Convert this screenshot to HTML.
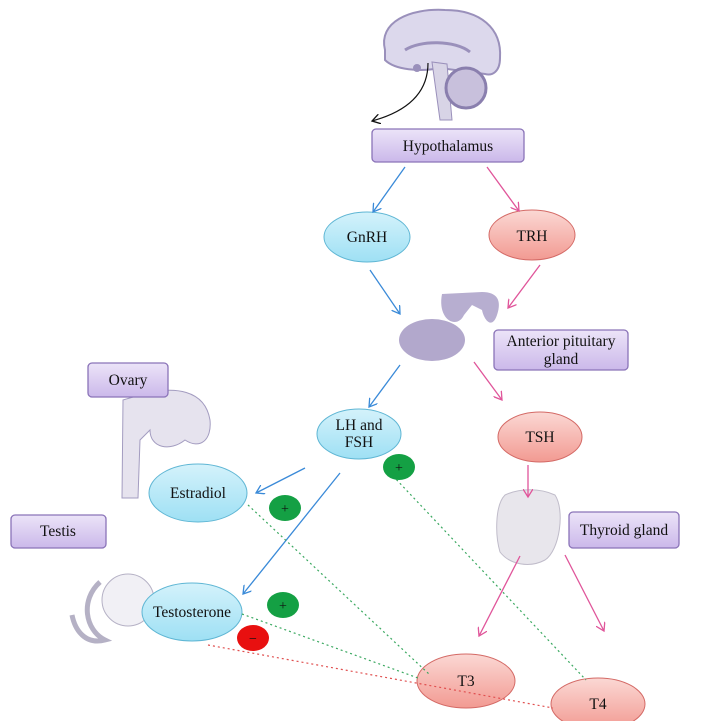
<!DOCTYPE html>
<html><head><style>body{margin:0;background:#fff}svg{display:block}text{font-family:"Liberation Serif",serif;font-size:15.5px;fill:#111;text-anchor:middle}</style></head><body>
<svg width="717" height="721" viewBox="0 0 717 721" xmlns="http://www.w3.org/2000/svg">
<defs>
<linearGradient id="pb" x1="0" y1="0" x2="0" y2="1"><stop offset="0" stop-color="#ece4f8"/><stop offset="1" stop-color="#cbb8ea"/></linearGradient>
<linearGradient id="cb" x1="0" y1="0" x2="0" y2="1"><stop offset="0" stop-color="#d4f2fb"/><stop offset="1" stop-color="#9ee0f4"/></linearGradient>
<linearGradient id="rb" x1="0" y1="0" x2="0" y2="1"><stop offset="0" stop-color="#fbd8d4"/><stop offset="1" stop-color="#f29a92"/></linearGradient>
<marker id="ab" markerWidth="10" markerHeight="10" refX="8" refY="5" orient="auto" markerUnits="userSpaceOnUse"><path d="M0,0 L8,5 L0,10" fill="none" stroke="#3a8ad8" stroke-width="1.3"/></marker>
<marker id="ap" markerWidth="10" markerHeight="10" refX="8" refY="5" orient="auto" markerUnits="userSpaceOnUse"><path d="M0,0 L8,5 L0,10" fill="none" stroke="#e0559a" stroke-width="1.3"/></marker>
<marker id="ak" markerWidth="10" markerHeight="10" refX="8" refY="5" orient="auto" markerUnits="userSpaceOnUse"><path d="M0,0 L8,5 L0,10" fill="none" stroke="#111" stroke-width="1.3"/></marker>
</defs>
<!-- brain -->
<path d="M385,50 C378,22 410,8 445,10 C480,10 502,28 500,58 C500,72 492,76 485,74 L440,68 C420,72 395,70 385,60 Z" fill="#dcd8ec" stroke="#9a90bb" stroke-width="2"/>
<path d="M432,62 L440,120 L452,120 L447,64 Z" fill="#d8d4e6" stroke="#9a90bb" stroke-width="1"/>
<circle cx="466" cy="88" r="20" fill="#c8c0dc" stroke="#8a7fae" stroke-width="3"/>
<path d="M405,50 C420,40 455,40 470,52" fill="none" stroke="#9a90bb" stroke-width="3"/>
<circle cx="417" cy="68" r="4" fill="#9a90bb"/>
<path d="M428,63 C428,95 405,112 372,121" fill="none" stroke="#111" stroke-width="1.2" marker-end="url(#ak)"/>
<!-- pituitary -->
<path d="M442,294 L482,292 C497,292 502,300 497,315 C492,330 484,320 482,310 L472,305 L464,315 C457,330 437,320 442,294 Z" fill="#b7aed0"/>
<ellipse cx="432" cy="340" rx="33" ry="21" fill="#b2a8cc"/>
<!-- ovary & testis & thyroid blobs -->
<path d="M123,400 L140,395 C175,385 205,390 210,420 C212,440 200,450 185,440 C170,452 150,448 150,430 L140,440 L138,498 L122,498 Z" fill="#e6e3ee" stroke="#a39cc0" stroke-width="1"/>
<circle cx="128" cy="600" r="26" fill="#f1f0f5" stroke="#b5b1c5"/>
<path d="M100,582 C80,600 85,630 105,640 C85,645 75,630 72,615" fill="none" stroke="#b5b1c5" stroke-width="5"/>
<path d="M505,495 C520,488 540,488 555,495 C565,510 560,550 545,560 C530,568 510,565 500,552 C495,535 495,505 505,495Z" fill="#e8e6ec" stroke="#c0bcca"/>
<!-- boxes -->
<g stroke="#8a73b8" stroke-width="1.3" fill="url(#pb)">
<rect x="372" y="129" width="152" height="33" rx="4"/>
<rect x="494" y="330" width="134" height="40" rx="4"/>
<rect x="88" y="363" width="80" height="34" rx="4"/>
<rect x="11" y="515" width="95" height="33" rx="4"/>
<rect x="569" y="512" width="110" height="36" rx="4"/>
</g>
<text x="448" y="151">Hypothalamus</text>
<text x="561" y="346">Anterior pituitary</text><text x="561" y="364">gland</text>
<text x="128" y="385">Ovary</text>
<text x="58" y="536">Testis</text>
<text x="624" y="535">Thyroid gland</text>
<!-- ellipses -->
<g stroke="#5fb6d4" stroke-width="1" fill="url(#cb)">
<ellipse cx="367" cy="237" rx="43" ry="25"/>
<ellipse cx="359" cy="434" rx="42" ry="25"/>
<ellipse cx="198" cy="493" rx="49" ry="29"/>
<ellipse cx="192" cy="612" rx="50" ry="29"/>
</g>
<g stroke="#d46a66" stroke-width="1" fill="url(#rb)">
<ellipse cx="532" cy="235" rx="43" ry="25"/>
<ellipse cx="540" cy="437" rx="42" ry="25"/>
<ellipse cx="466" cy="681" rx="49" ry="27"/>
<ellipse cx="598" cy="704" rx="47" ry="26"/>
</g>
<text x="367" y="242">GnRH</text><text x="532" y="241">TRH</text>
<text x="359" y="430">LH and</text><text x="359" y="447">FSH</text>
<text x="540" y="442">TSH</text>
<text x="198" y="498">Estradiol</text><text x="192" y="617">Testosterone</text>
<text x="466" y="686">T3</text><text x="598" y="709">T4</text>
<!-- arrows -->
<g stroke="#3a8ad8" stroke-width="1.3" fill="none" marker-end="url(#ab)">
<line x1="405" y1="167" x2="373" y2="212"/>
<line x1="370" y1="270" x2="400" y2="314"/>
<line x1="400" y1="365" x2="369" y2="407"/>
<line x1="305" y1="468" x2="256" y2="493"/>
<line x1="340" y1="473" x2="243" y2="594"/>
</g>
<g stroke="#e0559a" stroke-width="1.3" fill="none" marker-end="url(#ap)">
<line x1="487" y1="167" x2="519" y2="211"/>
<line x1="540" y1="265" x2="508" y2="308"/>
<line x1="474" y1="362" x2="502" y2="400"/>
<line x1="528" y1="465" x2="528" y2="497"/>
<line x1="520" y1="556" x2="479" y2="636"/>
<line x1="565" y1="555" x2="604" y2="631"/>
</g>
<!-- dotted -->
<g stroke="#3aa860" stroke-width="1.2" stroke-dasharray="2,3" fill="none">
<line x1="248" y1="505" x2="430" y2="675"/>
<line x1="393" y1="476" x2="586" y2="680"/>
<line x1="242" y1="614" x2="418" y2="678"/>
</g>
<line x1="208" y1="645" x2="553" y2="708" stroke="#e05050" stroke-width="1.2" stroke-dasharray="2,3"/>
<!-- signs -->
<g fill="#14a044"><ellipse cx="399" cy="467" rx="16" ry="13"/><ellipse cx="285" cy="508" rx="16" ry="13"/><ellipse cx="283" cy="605" rx="16" ry="13"/></g>
<ellipse cx="253" cy="638" rx="16" ry="13" fill="#e81010"/>
<text x="399" y="472" style="font-size:14px">+</text><text x="285" y="513" style="font-size:14px">+</text><text x="283" y="610" style="font-size:14px">+</text><text x="253" y="643" style="font-size:14px">−</text>
</svg>
</body></html>
